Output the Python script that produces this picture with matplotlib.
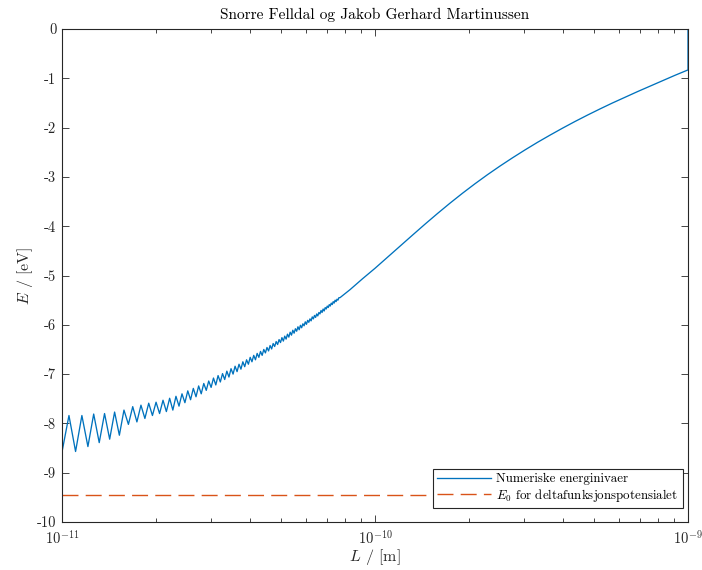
import numpy as np
import matplotlib
matplotlib.use("Agg")
import matplotlib.pyplot as plt
from matplotlib.ticker import LogLocator, NullFormatter, FixedLocator

plt.rcParams['mathtext.fontset'] = 'cm'
plt.rcParams['font.family'] = ['cmr10', 'DejaVu Serif']
plt.rcParams['axes.unicode_minus'] = False

# Numerical energy levels: L in units of 1e-11 m, E in eV (oscillating part)
L_zig = [1.0, 1.0525, 1.105, 1.1575, 1.21, 1.2625, 1.315, 1.3675, 1.42, 1.4725,
         1.525, 1.5775, 1.63, 1.6825, 1.735, 1.7875, 1.84, 1.8925, 1.945, 1.9975,
         2.05, 2.1025, 2.155, 2.2075, 2.26, 2.3125, 2.365, 2.4175, 2.47, 2.5225,
         2.575, 2.6275, 2.68, 2.7325, 2.785, 2.8375, 2.89, 2.9425, 2.995, 3.0475,
         3.1, 3.1525, 3.205, 3.2575, 3.31, 3.3625, 3.415, 3.4675, 3.52, 3.5725,
         3.625, 3.6775, 3.73, 3.7825, 3.835, 3.8875, 3.94, 3.9925, 4.045, 4.0975,
         4.15, 4.2025, 4.255, 4.3075, 4.36, 4.4125, 4.465, 4.5175, 4.57, 4.6225,
         4.675, 4.7275, 4.78, 4.8325, 4.885, 4.9375, 4.99, 5.0425, 5.095, 5.1475,
         5.2, 5.2525, 5.305, 5.3575, 5.41, 5.4625, 5.515, 5.5675, 5.62, 5.6725,
         5.725, 5.7775, 5.83, 5.8825, 5.935, 5.9875, 6.04, 6.0925, 6.145, 6.1975,
         6.25, 6.3025, 6.355, 6.4075, 6.46, 6.5125, 6.565, 6.6175, 6.67, 6.7225,
         6.775, 6.8275, 6.88, 6.9325, 6.985, 7.0375, 7.09, 7.1425, 7.195, 7.2475,
         7.3, 7.3525, 7.405, 7.4575, 7.51, 7.5625, 7.615, 7.6675]
E_zig = [-8.58, -7.84, -8.57, -7.84, -8.47, -7.81, -8.39, -7.80, -8.32, -7.77,
         -8.24, -7.73, -8.02, -7.66, -7.97, -7.63, -7.90, -7.59, -7.84, -7.57,
         -7.80, -7.53, -7.76, -7.49, -7.73, -7.45, -7.65, -7.40, -7.58, -7.34,
         -7.52, -7.29, -7.46, -7.24, -7.40, -7.19, -7.33, -7.14, -7.27, -7.08,
         -7.22, -7.03, -7.16, -6.99, -7.11, -6.94, -7.06, -6.89, -7.00, -6.84,
         -6.95, -6.80, -6.90, -6.75, -6.85, -6.71, -6.80, -6.66, -6.75, -6.62,
         -6.71, -6.58, -6.66, -6.54, -6.62, -6.50, -6.57, -6.46, -6.53, -6.42,
         -6.49, -6.38, -6.44, -6.34, -6.40, -6.30, -6.36, -6.26, -6.33, -6.23,
         -6.29, -6.19, -6.25, -6.15, -6.21, -6.11, -6.17, -6.08, -6.13, -6.04,
         -6.10, -6.01, -6.06, -5.98, -6.02, -5.94, -5.99, -5.91, -5.95, -5.88,
         -5.92, -5.84, -5.88, -5.81, -5.85, -5.78, -5.82, -5.75, -5.78, -5.71,
         -5.75, -5.68, -5.72, -5.65, -5.68, -5.62, -5.65, -5.59, -5.62, -5.56,
         -5.59, -5.53, -5.56, -5.50, -5.53, -5.48, -5.50, -5.45]
# Smooth part (L in units of 1e-11 m)
L_smooth = [7.731, 8.322, 9.123, 10.0, 10.962, 12.017, 13.177, 14.445, 15.834,
            17.36, 19.028, 20.866, 22.876, 25.08, 27.497, 30.143, 33.047, 36.232,
            39.719, 43.551, 47.746, 52.346, 57.391, 62.913, 68.976, 75.614, 82.899,
            90.887, 100.0, 100.0]
E_smooth = [-5.449, -5.287, -5.066, -4.854, -4.629, -4.404, -4.181, -3.959, -3.743,
            -3.533, -3.332, -3.139, -2.955, -2.780, -2.613, -2.453, -2.299, -2.153,
            -2.012, -1.876, -1.746, -1.621, -1.500, -1.384, -1.270, -1.159, -1.049,
            -0.939, -0.83, 0.0]

E0 = -9.45
x_range = [1e-11, 1e-9]

title = "Snorre Felldal og Jakob Gerhard Martinussen"
y_ticks = [0, -1, -2, -3, -4, -5, -6, -7, -8, -9, -10]
y_ticklabels = ["0", "-1", "-2", "-3", "-4", "-5", "-6", "-7", "-8", "-9", "-10"]
x_ticks = [1e-11, 1e-10, 1e-9]
x_ticklabels = [r"$10^{-11}$", r"$10^{-10}$", r"$10^{-9}$"]

L_all = np.array(L_zig + L_smooth) * 1e-11
E_all = np.array(E_zig + E_smooth)

fig = plt.figure(figsize=(7.02, 5.70), dpi=100)
ax = fig.add_axes([62/702, 1-522/570, (688-62)/702, (522-29)/570])

blue = '#0072BD'
orange = '#D95319'
axc = '#262626'

ax.plot(L_all, E_all, color=blue, lw=0.95, label='Numeriske energinivaer')
ax.plot(x_range, [E0, E0], color=orange, lw=1.0, dashes=(11.5, 5.2),
        label=r'$E_0$ for deltafunksjonspotensialet')

ax.set_xscale('log')
ax.set_xlim(x_range)
ax.set_ylim(-10, 0)
ax.set_yticks(y_ticks)
ax.set_yticklabels(y_ticklabels)
ax.xaxis.set_major_locator(FixedLocator(x_ticks))
ax.set_xticklabels(x_ticklabels)
ax.xaxis.set_minor_locator(LogLocator(base=10, subs=np.arange(2, 10)))
ax.xaxis.set_minor_formatter(NullFormatter())

for s in ax.spines.values():
    s.set_color(axc)
    s.set_linewidth(0.8)
ax.tick_params(which='both', direction='in', top=True, right=True, colors=axc,
               labelcolor='#262626', labelsize=10.5, width=0.6)
ax.tick_params(which='major', length=5)
ax.tick_params(axis='x', which='major', pad=5)
ax.tick_params(axis='y', which='major', pad=4)
ax.tick_params(which='minor', length=3)

ax.set_title(title, fontsize=11.1, color='black', pad=7)
ax.set_xlabel(r"$L$ / [m]", fontsize=11.5, color='#262626', labelpad=0)
ax.set_ylabel(r"$E$ / [eV]", fontsize=11.5, color='#262626', labelpad=1.5)

leg = ax.legend(loc='lower right', bbox_to_anchor=(0.992, 0.028), fontsize=9.3,
                frameon=True, fancybox=False, framealpha=1, edgecolor=axc,
                handlelength=4.2, borderpad=0.35, labelspacing=0.1, handletextpad=0.4,
                borderaxespad=0)
leg.get_frame().set_linewidth(0.8)

fig.savefig('out.png', dpi=100)
